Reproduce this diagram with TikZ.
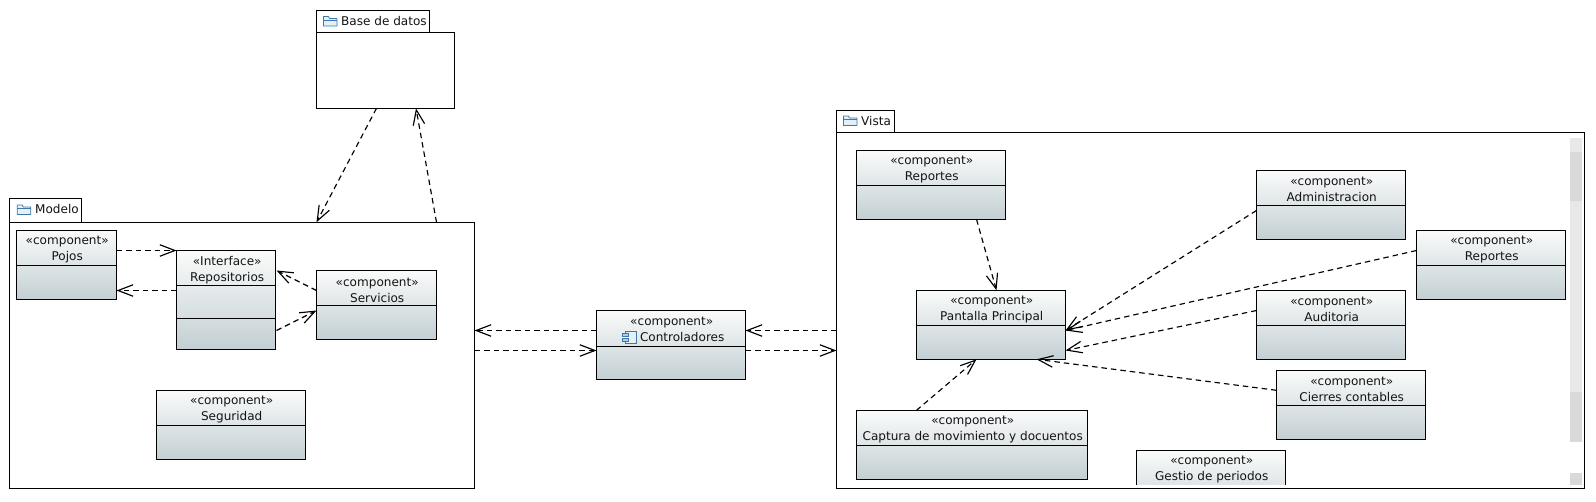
\documentclass[tikz,border=0pt]{standalone}
\usepackage{fontspec}
\setmainfont{DejaVu Sans}
\usetikzlibrary{arrows.meta}
\definecolor{gradtop}{HTML}{FAFBFB}
\definecolor{gradbot}{HTML}{C3CFD3}
\definecolor{iconblue}{HTML}{3F78A8}
\definecolor{iconfill}{HTML}{E4F0F8}
\definecolor{textcol}{HTML}{141414}
\tikzset{
  x=1pt,y=-1pt,
  compbox/.style={draw=black,line width=1pt,top color=gradtop,bottom color=gradbot,
    anchor=north west,inner sep=0,outer sep=0,minimum height=69pt},
  frameline/.style={draw=black,line width=1pt,fill=white,anchor=north west,inner sep=0,outer sep=0},
  comptext/.style={align=center,inner sep=0,font=\fontsize{12.05}{16}\selectfont,text=textcol},
  tabtext/.style={anchor=west,inner sep=0,font=\fontsize{12.05}{16}\selectfont,text=textcol},
  dep/.style={draw=black,line width=1.15pt,dash pattern=on 5.5pt off 4pt,
    -{Straight Barb[length=15pt,width=11.5pt,line width=1.15pt]}},
  divider/.style={draw=black,line width=1pt},
  sbtrack/.style={fill=black!9,draw=none},
  sbthumb/.style={fill=black!15,draw=none},
}
% name, x, y, width, title
\newcommand{\compo}[5]{%
  \node[compbox,minimum width=#4 pt] (#1) at (#2,#3) {};
  \node[comptext] (#1t) at ([shift={(0.7,19.5)}]#1.north) {«component»\\#5};
  \draw[divider] ([shift={(0,35)}]#1.north west) -- ([shift={(0,35)}]#1.north east);
}
\newcommand{\foldericon}[2]{%
  \draw[draw=iconblue,fill=iconfill,line width=0.8pt,line join=round]
    (#1,#2) -- (#1,#2+9.5) -- (#1+13.5,#2+9.5) -- (#1+13.5,#2+2) -- (#1+6,#2+2) -- (#1+5,#2) -- cycle;
  \draw[draw=iconblue,line width=0.8pt] (#1,#2+3.4) -- (#1+13.5,#2+3.4);
}
\begin{document}
\begin{tikzpicture}
\useasboundingbox[fill=white] (0,0) rectangle (1596,501);

% packages
\node[frameline,minimum width=113pt,minimum height=22pt] (baseTab) at (316.5,10) {};
\node[frameline,minimum width=138pt,minimum height=76pt] (base) at (316.5,32.3) {};
\foldericon{323.5}{16.5}
\node[tabtext] (baseLab) at (341,21) {Base de datos};

\node[frameline,minimum width=72pt,minimum height=24pt] (modeloTab) at (9.5,198.3) {};
\node[frameline,minimum width=465pt,minimum height=266pt] (modelo) at (9.5,222.3) {};
\foldericon{17.3}{205}
\node[tabtext] (modeloLab) at (35,209.5) {Modelo};

\node[frameline,minimum width=58pt,minimum height=22pt] (vistaTab) at (836.5,110.3) {};
\node[frameline,minimum width=748pt,minimum height=356pt] (vista) at (836.5,132.3) {};
\foldericon{843.5}{116}
\node[tabtext] (vistaLab) at (861,120.7) {Vista};

% scrollbar
\fill[sbtrack] (1570,138) rectangle (1582,442);
\fill[sbthumb] (1570,151.5) rectangle (1582,201);
\fill[sbthumb] (1570,391.5) rectangle (1582,442);
\fill[sbthumb] (1570,473) rectangle (1582,485);

% Modelo
\compo{pojos}{16.5}{230.3}{100}{Pojos}
\node[compbox,minimum width=99pt,minimum height=99pt] (repos) at (176.5,250.5) {};
\node[comptext] (repost) at ([shift={(1.2,19.5)}]repos.north) {«Interface»\\Repositorios};
\draw[divider] ([shift={(0,35)}]repos.north west) -- ([shift={(0,35)}]repos.north east);
\draw[divider] ([shift={(0,68)}]repos.north west) -- ([shift={(0,68)}]repos.north east);
\compo{servicios}{316.5}{270.5}{120}{Servicios}
\compo{seguridad}{156.5}{390.3}{149}{Seguridad}

% middle
\node[compbox,minimum width=149pt] (contr) at (596.5,310.3) {};
\node[comptext] (contrt) at ([shift={(0.7,19.5)}]contr.north) {«component»\\\hspace*{21pt}Controladores};
\draw[divider] ([shift={(0,36)}]contr.north west) -- ([shift={(0,36)}]contr.north east);
\draw[draw=iconblue,fill=iconfill,line width=0.8pt] (625,331.5) rectangle (636.5,343);
\fill[white] (621.5,333) rectangle (628,341.5);
\draw[draw=iconblue,fill=iconfill!70!iconblue,line width=0.7pt] (622.5,333.5) rectangle (628,336.5);
\draw[draw=iconblue,fill=iconfill!70!iconblue,line width=0.7pt] (622.5,338) rectangle (628,341);

% Vista
\compo{reportesA}{856.5}{150.3}{149}{Reportes}
\compo{admin}{1256.5}{170.3}{149}{Administracion}
\compo{reportesB}{1416.5}{230.3}{149}{Reportes}
\compo{auditoria}{1256.5}{290.3}{149}{Auditoria}
\compo{pantalla}{916.5}{290.3}{149}{Pantalla Principal}
\compo{cierres}{1276.5}{370.3}{149}{Cierres contables}
\compo{captura}{856.5}{410.3}{231}{Captura de movimiento y docuentos}
\begin{scope}
  \clip (1130,445) rectangle (1290,484.3);
  \compo{gestio}{1136.5}{450.3}{149}{Gestio de periodos}
\end{scope}

% connectors
\draw[dep] ([shift={(60,0)}]base.south west) -- ([shift={(307,0)}]modelo.north west);
\draw[dep] ([shift={(427,0)}]modelo.north west) -- ([shift={(99.5,0)}]base.south west);
\draw[dep] ([shift={(0,20.2)}]pojos.north east) -- (repos.north west);
\draw[dep] ([shift={(0,40)}]repos.north west) -- ([shift={(0,60.2)}]pojos.north east);
\draw[dep] (servicios.north west |- 0,290.5) -- ([shift={(1,20)}]repos.north east);
\draw[dep] ([shift={(1,80)}]repos.north east) -- (servicios.north west |- 0,310.5);
\draw[dep] ([shift={(0,20.2)}]contr.north west) -- (modelo.east |- 0,330.5);
\draw[dep] (modelo.east |- 0,350.5) -- ([shift={(0,40.2)}]contr.north west);
\draw[dep] (vista.west |- 0,330.5) -- ([shift={(0,20.2)}]contr.north east);
\draw[dep] ([shift={(0,40.2)}]contr.north east) -- (vista.west |- 0,350.5);
\draw[dep] ([shift={(120,0)}]reportesA.south west) -- ([shift={(80,0)}]pantalla.north west);
\draw[dep] ([shift={(0,40.2)}]admin.north west) -- ([shift={(0,40.2)}]pantalla.north east);
\draw[dep] ([shift={(0,20.2)}]reportesB.north west) -- ([shift={(0,40.2)}]pantalla.north east);
\draw[dep] ([shift={(0,20.2)}]auditoria.north west) -- ([shift={(0,60.2)}]pantalla.north east);
\draw[dep] ([shift={(0,20)}]cierres.north west) -- ([shift={(120,0)}]pantalla.south west);
\draw[dep] ([shift={(60,0)}]captura.north west) -- ([shift={(60,0)}]pantalla.south west);
\end{tikzpicture}
\end{document}
